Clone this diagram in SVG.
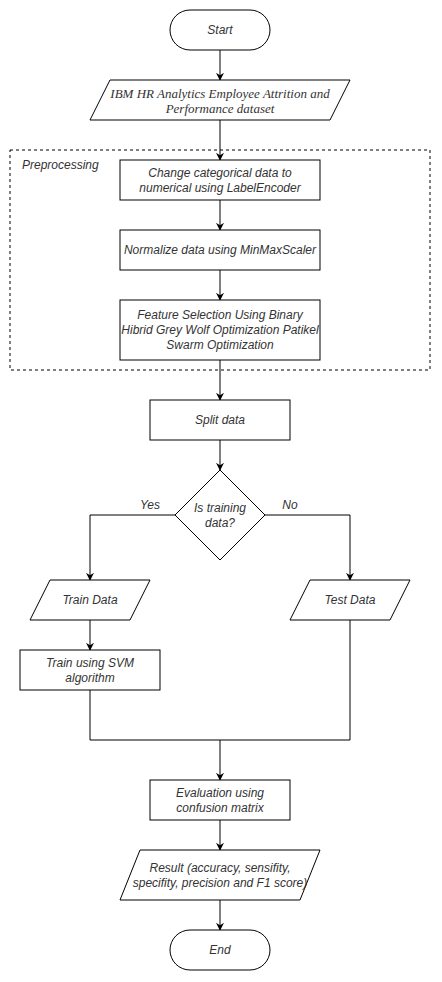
<svg xmlns="http://www.w3.org/2000/svg" width="442" height="982" viewBox="0 0 442 982">
<defs>
<marker id="arr" viewBox="0 0 10 10" refX="9" refY="5" markerWidth="8" markerHeight="8" markerUnits="userSpaceOnUse" orient="auto">
<path d="M0,0 L10,5 L0,10 L3,5 Z" fill="#000"/>
</marker>
</defs>
<style>
.s{fill:#fff;stroke:#000;stroke-width:1}
.t{font-family:"Liberation Sans",Arial,sans-serif;font-style:italic;font-size:12px;fill:#333;text-anchor:middle}
.ts{font-family:"Liberation Serif","Times New Roman",serif;font-style:italic;font-size:13px;fill:#333;text-anchor:middle}
.c{fill:none;stroke:#000;stroke-width:1}
.ca{fill:none;stroke:#000;stroke-width:1;marker-end:url(#arr)}
</style>
<rect width="442" height="982" fill="#fff"/>
<g id="preprocessing">
<rect x="10" y="150" width="420" height="220" fill="none" stroke="#000" stroke-dasharray="3,3"/>
<text class="t" x="22" y="169" style="text-anchor:start">Preprocessing</text>
</g>
<g id="connectors">
<line class="ca" x1="220" y1="50" x2="220" y2="80"/>
<line class="ca" x1="220" y1="120" x2="220" y2="160"/>
<line class="ca" x1="220" y1="200" x2="220" y2="230"/>
<line class="ca" x1="220" y1="270" x2="220" y2="300"/>
<line class="ca" x1="220" y1="360" x2="220" y2="400"/>
<line class="ca" x1="220" y1="440" x2="220" y2="470"/>
<path class="ca" d="M175,515 L90,515 L90,580"/>
<path class="ca" d="M265,515 L350,515 L350,580"/>
<line class="ca" x1="90" y1="620" x2="90" y2="650"/>
<path class="c" d="M90,690 L90,740 L350,740 L350,620"/>
<line class="ca" x1="220" y1="740" x2="220" y2="780"/>
<line class="ca" x1="220" y1="820" x2="220" y2="850"/>
<line class="ca" x1="220" y1="900" x2="220" y2="930"/>
<text class="t" x="150" y="509">Yes</text>
<text class="t" x="290" y="509">No</text>
</g>
<g id="start">
<rect class="s" x="170" y="10" width="100" height="40" rx="20" ry="20"/>
<text class="t" x="220" y="34">Start</text>
</g>
<g id="dataset">
<path class="s" d="M110,80 L350,80 L330,120 L90,120 Z"/>
<text class="ts" x="220" y="97.5">IBM HR Analytics Employee Attrition and</text>
<text class="ts" x="220" y="112.5">Performance dataset</text>
</g>
<g id="labelencoder">
<rect class="s" x="120" y="160" width="200" height="40"/>
<text class="t" x="220" y="177">Change categorical data to</text>
<text class="t" x="220" y="192">numerical using LabelEncoder</text>
</g>
<g id="normalize">
<rect class="s" x="120" y="230" width="200" height="40"/>
<text class="t" x="220" y="254">Normalize data using MinMaxScaler</text>
</g>
<g id="featureselection">
<rect class="s" x="120" y="300" width="200" height="60"/>
<text class="t" x="220" y="319">Feature Selection Using Binary</text>
<text class="t" x="220" y="334">Hibrid Grey Wolf Optimization Patikel</text>
<text class="t" x="220" y="349">Swarm Optimization</text>
</g>
<g id="split">
<rect class="s" x="150" y="400" width="140" height="40"/>
<text class="t" x="220" y="424">Split data</text>
</g>
<g id="decision">
<path class="s" d="M220,470 L265,515 L220,560 L175,515 Z"/>
<text class="t" x="220" y="512">Is training</text>
<text class="t" x="220" y="527">data?</text>
</g>
<g id="traindata">
<path class="s" d="M50,580 L150,580 L130,620 L30,620 Z"/>
<text class="t" x="90" y="604">Train Data</text>
</g>
<g id="testdata">
<path class="s" d="M310,580 L410,580 L390,620 L290,620 Z"/>
<text class="t" x="350" y="604">Test Data</text>
</g>
<g id="trainsvm">
<rect class="s" x="20" y="650" width="140" height="40"/>
<text class="t" x="90" y="667">Train using SVM</text>
<text class="t" x="90" y="682">algorithm</text>
</g>
<g id="evaluation">
<rect class="s" x="150" y="780" width="140" height="40"/>
<text class="t" x="220" y="797">Evaluation using</text>
<text class="t" x="220" y="812">confusion matrix</text>
</g>
<g id="result">
<path class="s" d="M140,850 L320,850 L300,900 L120,900 Z"/>
<text class="t" x="220" y="872">Result (accuracy, sensifity,</text>
<text class="t" x="220" y="887">specifity, precision and F1 score)</text>
</g>
<g id="end">
<rect class="s" x="170" y="930" width="100" height="40" rx="20" ry="20"/>
<text class="t" x="220" y="954">End</text>
</g>
</svg>
